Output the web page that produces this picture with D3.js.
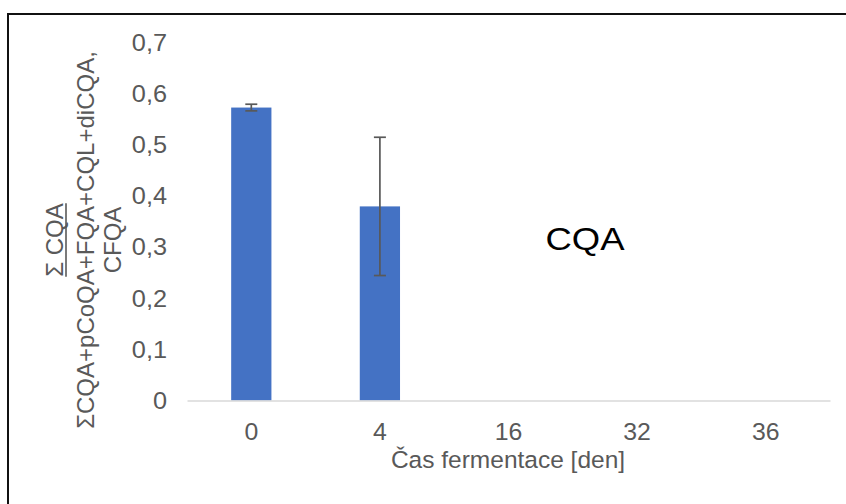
<!DOCTYPE html>
<html>
<head>
<meta charset="utf-8">
<script src="https://cdn.jsdelivr.net/npm/d3@7"></script>
<style>
  html, body { margin: 0; padding: 0; background: #fff; }
  svg { display: block; font-family: "Liberation Sans", Arial, sans-serif; }
</style>
</head>
<body>
<svg id="chart" width="846" height="504"></svg>
<script>
// Fermentation days (categories)
const days = ["0", "4", "16", "32", "36"];
// Share of CQA in the total pool, mean per day
const cqaShare = [0.572, 0.379, 0, 0, 0];
// Standard deviation per day
const cqaError = [0.0065, 0.135, 0, 0, 0];
// Y axis ticks
const yTicks = [0, 0.1, 0.2, 0.3, 0.4, 0.5, 0.6, 0.7];
const formatTick = d => d3.format(".1f")(d).replace(".", ",").replace(/^0,0$/, "0");

const svg = d3.select("#chart");
const W = 846, H = 504;

// outer chart frame (runs off the right and bottom edges)
svg.append("rect")
  .attr("x", 8).attr("y", 14)
  .attr("width", W + 20).attr("height", H + 20)
  .attr("fill", "#fff")
  .attr("stroke", "#111").attr("stroke-width", 2);

const x = d3.scaleBand()
  .domain(days)
  .range([187, 830])
  .paddingInner(0.687)
  .paddingOuter(0.3435);

const y = d3.scaleLinear()
  .domain([0, 0.7])
  .range([400.5, 42]);

// y tick labels (no axis line, no gridlines)
const yAxis = d3.axisLeft(y)
  .tickValues(yTicks)
  .tickFormat(formatTick)
  .tickSize(0)
  .tickPadding(0);
const gy = svg.append("g").attr("transform", "translate(167,0)").call(yAxis);
gy.select(".domain").remove();
gy.selectAll("text")
  .attr("fill", "#595959")
  .attr("font-size", 23)
  .attr("font-family", "Liberation Sans, Arial, sans-serif")
  .attr("dy", "0.35em")
  .attr("transform", "scale(1.1,1)");

// bars
svg.append("g").selectAll("rect")
  .data(days.map((d, i) => ({ day: d, v: cqaShare[i], e: cqaError[i] })).filter(d => d.v > 0))
  .join("rect")
  .attr("x", d => x(d.day))
  .attr("width", x.bandwidth())
  .attr("y", d => y(d.v))
  .attr("height", d => y(0) - y(d.v))
  .attr("fill", "#4472C4");

// x axis baseline and labels
const xAxis = d3.axisBottom(x).tickSize(0).tickPadding(0);
const gx = svg.append("g").attr("transform", `translate(0,${y(0)})`).call(xAxis);
gx.select(".domain").attr("stroke", "#D9D9D9").attr("stroke-width", 1.5);
gx.selectAll("text")
  .attr("fill", "#595959")
  .attr("font-size", 23)
  .attr("font-family", "Liberation Sans, Arial, sans-serif")
  .attr("y", 39.5)
  .attr("dy", 0)
  .attr("transform", "scale(1.08,1)");

// error bars
const eb = svg.append("g").attr("stroke", "#595959").attr("stroke-width", 1.7);
days.forEach((d, i) => {
  if (cqaError[i] <= 0) return;
  const cx = x(d) + x.bandwidth() / 2;
  const y1 = y(cqaShare[i] + cqaError[i]);
  const y2 = y(cqaShare[i] - cqaError[i]);
  eb.append("line").attr("x1", cx).attr("x2", cx).attr("y1", y1).attr("y2", y2);
  eb.append("line").attr("x1", cx - 6).attr("x2", cx + 6).attr("y1", y1).attr("y2", y1);
  eb.append("line").attr("x1", cx - 6).attr("x2", cx + 6).attr("y1", y2).attr("y2", y2);
});

// x axis title
svg.append("text")
  .attr("x", 508).attr("y", 468)
  .attr("text-anchor", "middle")
  .attr("fill", "#595959")
  .attr("font-size", 24.5)
  .text("Čas fermentace [den]");

// y axis title: fraction Σ CQA / (ΣCQA+pCoQA+FQA+CQL+diCQA, CFQA)
const yc = 240;
const num = svg.append("text")
  .attr("transform", `translate(63,${yc}) rotate(-90)`)
  .attr("text-anchor", "middle")
  .attr("fill", "#595959")
  .attr("font-size", 24)
  .text("Σ CQA");
const numLen = num.node().getComputedTextLength();
svg.append("line")
  .attr("x1", 66).attr("x2", 66)
  .attr("y1", yc - numLen / 2).attr("y2", yc + numLen / 2)
  .attr("stroke", "#595959").attr("stroke-width", 1.6);

const denLines = ["ΣCQA+pCoQA+FQA+CQL+diCQA,", "CFQA"];
svg.append("g").selectAll("text")
  .data(denLines)
  .join("text")
  .attr("transform", (d, i) => `translate(${94 + i * 27},${yc}) rotate(-90)`)
  .attr("text-anchor", "middle")
  .attr("fill", "#595959")
  .attr("font-size", 24)
  .text(d => d);

// in-plot label
svg.append("text")
  .attr("transform", "translate(585,249.5) scale(1.14,1)")
  .attr("text-anchor", "middle")
  .attr("fill", "#000")
  .attr("font-size", 32)
  .text("CQA");
</script>
</body>
</html>
